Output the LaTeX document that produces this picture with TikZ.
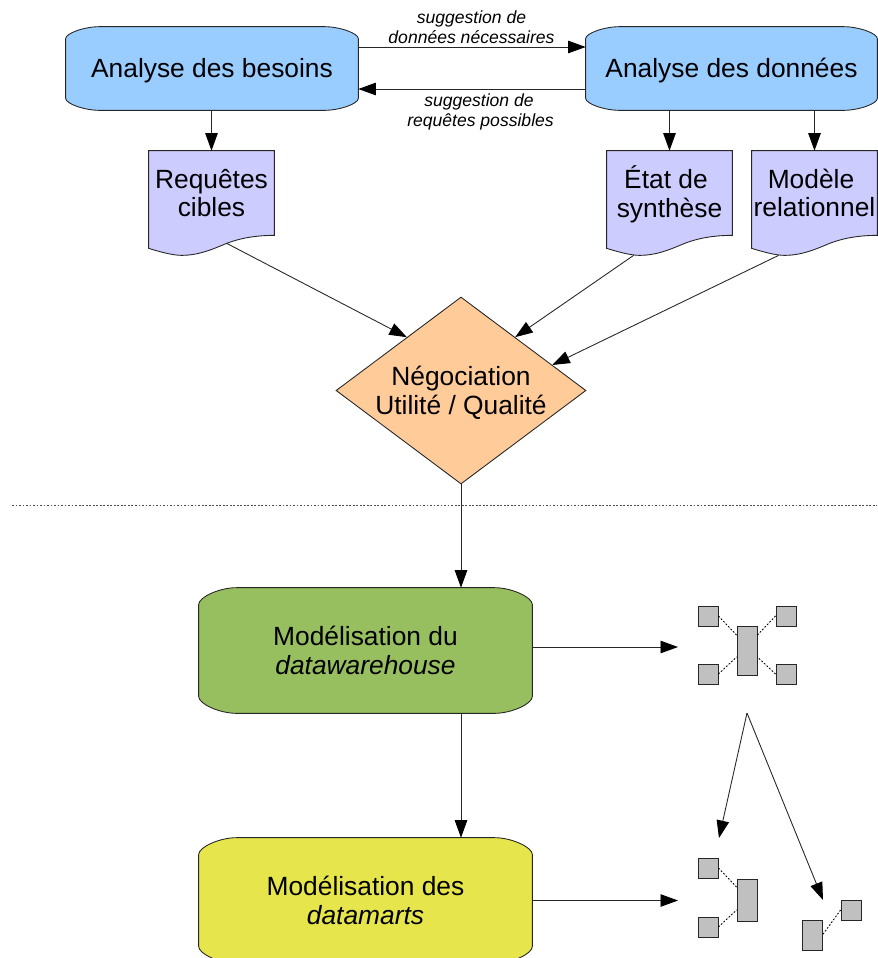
\documentclass[tikz,border=0pt]{standalone}
\usepackage{fontspec}
\setmainfont{Liberation Sans}
\usetikzlibrary{arrows.meta,backgrounds,calc,shapes.geometric}
\definecolor{bleu}{HTML}{99CCFF}
\definecolor{lavande}{HTML}{CCCCFF}
\definecolor{saumon}{HTML}{FFCC99}
\definecolor{vert}{HTML}{97BF60}
\definecolor{jaune}{HTML}{E6E64C}
\definecolor{gris}{HTML}{C0C0C0}
\tikzset{
	trait/.style={line width=.5pt,draw=black!85},
	titre/.style={inner sep=0,align=center,font=\fontsize{15}{16.4}\selectfont},
	procbox/.style={titre,minimum width=#1*.02cm},
	docbox/.style={titre,minimum width=2.5cm,minimum height=1.68cm},
	note/.style={inner sep=0,align=center,font=\fontsize{10}{11.3}\selectfont\itshape},
	table/.style={trait,fill=gris,inner sep=0,minimum width=.4cm},
	lien/.style={line width=.5pt,dash pattern=on 1pt off 1pt}
}
% contour a coins elliptiques, derriere le noeud
\newcommand{\coins}[4]{
	\begin{scope}[on background layer]
		\draw[trait,fill=#2] ($(#1.north west)+(#3,0)$)--($(#1.north east)+(-#3,0)$)
		.. controls +(.45*#3,0) and ($(#1.north east)+(0,.55*#4)$) .. ($(#1.north east)+(0,#4)$)
		--($(#1.south east)+(0,-#4)$)
		.. controls ($(#1.south east)+(0,-.55*#4)$) and ($(#1.south east)+(-.55*#3,0)$) .. ($(#1.south east)+(-#3,0)$)
		--($(#1.south west)+(#3,0)$)
		.. controls ($(#1.south west)+(.55*#3,0)$) and ($(#1.south west)+(0,-.55*#4)$) .. ($(#1.south west)+(0,-#4)$)
		--($(#1.north west)+(0,#4)$)
		.. controls ($(#1.north west)+(0,.55*#4)$) and ($(#1.north west)+(.55*#3,0)$) .. cycle;
	\end{scope}
}
% contour de document, bas ondule
\newcommand{\ondule}[1]{
	\begin{scope}[on background layer]
		\draw[trait,fill=lavande] (#1.north west)--(#1.north east)--(#1.south east)
		.. controls +(-19,0) and ($(#1.south west)+(91,3)$) .. ($(#1.south west)+(78,8)$)
		.. controls ($(#1.south west)+(66,13)$) and ($(#1.south west)+(51,20)$) .. ($(#1.south west)+(33,20)$)
		.. controls ($(#1.south west)+(26,20)$) and ($(#1.south west)+(16,18)$) .. ($(#1.south west)+(0,13)$)
		--cycle;
	\end{scope}
	\coordinate (#1-mid) at ($(#1.south west)+(78,8)$);
	\coordinate (#1-bas) at ($(#1.south west)+(27,20)$);
}
\begin{document}
\begin{tikzpicture}[x=.02cm,y=-.02cm,>={Triangle[length=.35cm,width=.25cm,fill=black,color=black]}]
	\useasboundingbox (0,0) rectangle (877,958);
	\node[procbox=292,minimum height=1.66cm] (besoins) at (212,68.5) {\rule{0pt}{13.2pt}Analyse des besoins};
	\node[procbox=291,minimum height=1.66cm] (donnees) at (731.5,68.5) {\rule{0pt}{13.2pt}Analyse des données};
	\node[docbox] (requetes) at (211.5,193) {Requêtes\\cibles};
	\node[docbox] (etat) at (669.5,193) {\rule{0pt}{14.7pt}État de\hspace*{.14cm}\\synthèse};
	\node[docbox] (modele) at (814.5,193) {Modèle\hspace*{.14cm}\\relationnel};
	\node[titre,diamond,aspect=1.337,fill=saumon,trait,minimum width=5cm,minimum height=3.74cm] (nego) at (461,390.5) {\rule{0pt}{13.5pt}Négociation\\Utilité / Qualité};
	\node[procbox=333,minimum height=2.5cm] (dw) at (365.5,650.5) {Modélisation du\\\textit{datawarehouse}};
	\node[procbox=333,minimum height=2.5cm] (dm) at (365.5,900.5) {Modélisation des\\\textit{datamarts}};
	\coins{besoins}{bleu}{34}{12}
	\coins{donnees}{bleu}{34}{12}
	\coins{dw}{vert}{38}{17}
	\coins{dm}{jaune}{38}{17}
	\ondule{requetes}
	\ondule{etat}
	\ondule{modele}
	\node[note] (besoinsvers) at (471.5,27) {suggestion de\\données nécessaires};
	\node[note] (donneesvers) at (480.5,112) {suggestion de\hspace*{.06cm}\\requêtes possibles};
	\foreach \n/\x/\y/\h in {a/708/616/20,b/786/616/20,c/708/674/20,d/786/674/20,f/747/650.5/49,
		g/708/868/20,h/708/927/20,i/747/900/42,j/851/910/20,k/812/935/30}
	\node[table,minimum height=\h*.02cm] (\n) at (\x,\y) {};
	\coordinate (sepG) at (12,505);
	\coordinate (sepD) at (877,505);
	\coordinate (dwfin) at (678,647);
	\coordinate (dmfin) at (678,900.5);
	\coordinate (fourche) at (747,713);
	\coordinate (fourcheG) at (719,838);
	\coordinate (fourcheD) at (823,900);
	\draw[lien,black!70] (sepG)--(sepD);
	\begin{scope}[trait]
		\draw[->] (besoins.east |- 0,47)--(donnees.west |- 0,47);
		\draw[->] (donnees.west |- 0,89)--(besoins.east |- 0,89);
		\draw[->] (besoins.south -| requetes.north)--(requetes.north);
		\draw[->] (donnees.south -| etat.north)--(etat.north);
		\draw[->] (donnees.south -| modele.north)--(modele.north);
		\draw[->] (requetes-mid)--($(nego.west)!.568!(nego.north)$);
		\draw[->] (etat-bas)--($(nego.north)!.432!(nego.east)$);
		\draw[->] (modele-bas)--($(nego.north)!.728!(nego.east)$);
		\draw[->] (nego.south)--(nego.south |- dw.north);
		\draw[->] (nego.south |- dw.south)--(nego.south |- dm.north);
		\draw[->] (dw.east |- dwfin)--(dwfin);
		\draw[->] (dm.east |- dmfin)--(dmfin);
		\draw[->] (fourche)--(fourcheG);
		\draw[->] (fourche)--(fourcheD);
	\end{scope}
	\draw[lien] (a.east)--(f.west |- 0,635) (b.west)--(f.east |- 0,635)
	(c.east)--(f.west |- 0,657) (d.west)--(f.east |- 0,657)
	(g.east)--(i.west |- 0,887) (h.east)--(i.west |- 0,910)
	(j.west)--(k.east);
\end{tikzpicture}
\end{document}
